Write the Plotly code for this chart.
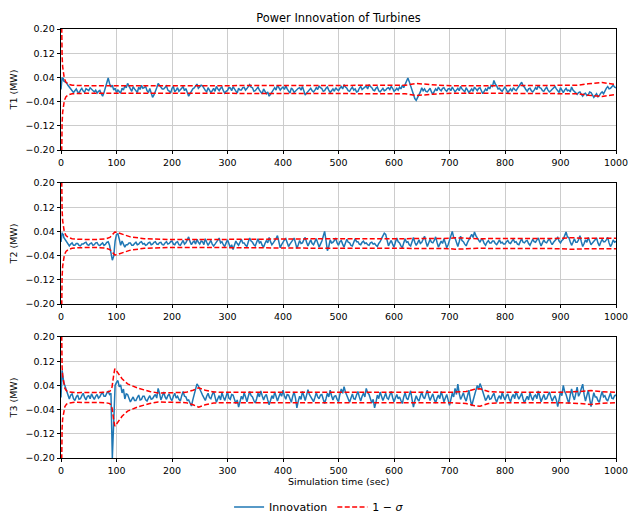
import plotly.graph_objects as go
from plotly.subplots import make_subplots

# ---------------- data (values in kW, i.e. 1e-3 MW) ----------------
# first five samples at 1 s, afterwards every 2.5 s
t1_innov_kw = (
    [0, 35, 40, 30, 38]
    + [28, 24, 22, 14, 8, 2, -6, -10, -4, 2, -8, -12, -2, 4, -5, -9, 3, -1, -4, 6, 2, -4, -8, -2, -12, -6, -3, -14, -22, -10, 5, 18, 38, 20, 8, 14, -2, 4, -10, -2]
    + [-6, -12, 4, -2, 12, 6, 20, 8, 2, -6, 9, 2, -3, -10, 8, 0, 14, 4, 6, 10, -4, -10, 3, -12, -26, -18, -8, 6, 20, 14, 10, 2, 2, 6, 12, -2, -5, -12, 4, 10]
    + [-8, -2, 6, -6, -2, 4, 10, -4, 3, -10, -22, -14, -6, 2, 5, 12, 18, 4, 8, 14, 12, 2, -3, -8, 6, -2, -10, -4, 4, -6, 10, 2, -4, 4, 8, -4, -12, -6, -3, 6]
    + [5, -4, 9, 2, -6, -12, 4, -2, -2, 6, 7, -2, 3, 10, 16, 8, 6, -6, -4, 2, 8, -2, -8, -14, 2, -6, -14, -8, -22, -16, -10, -2, 6, -2, 14, 6, -2, 4, 8, 0]
    + [12, 2, -4, -12, 5, 0, -10, -4, -2, 4, 6, -2, 10, -6, -18, -12, -6, 2, 4, -4, -8, -2, 6, 0, 12, 6, 3, -6, -4, 4, 8, -2, -10, -4, 2, -6, 6, 0, -4, 4]
    + [10, 2, 16, 8, 4, -4, -6, 2, 8, -2, 2, -8, -6, 4, 10, 0, 4, 8, 12, 2, 16, 10, 6, -2, -4, 4, 8, -4, -8, -2, 4, -4, -2, 4, 6, 0, 10, 4, -6, -2]
    + [4, -2, 8, 2, 14, 6, 18, 24, 38, 26, 10, -4, -18, -30, -36, -28, -20, -8, 6, -4, 2, -6, -8, 0, 4, -8, -16, -6, 2, -4, 8, 0, -4, 4, 6, -2, -6, 2, 3, -4]
    + [8, 0, -8, -2, 4, -4, 10, 2, -2, -8, 6, 0, -10, -4, 2, -6, 8, 2, -4, 4, 6, -4, -14, -6, 2, -4, 8, 2, 14, 10, 30, 18, 12, 2, 4, -2, -6, 2, 8, 0]
    + [-10, -4, 2, -6, 6, 0, -4, 4, 10, 16, 24, 12, 8, 0, -6, 2, 4, -4, -8, -2, 6, 0, 14, 6, 4, -4, -6, 2, 8, -2, -8, -4, 2, 6, 10, 2, -4, -10, 6, -2]
    + [-10, -2, 4, -4, -2, -8, 8, -2, -6, -12, -16, -10, -8, -16, -22, -14, -12, -20, -18, -8, -10, -18, -26, -20, -14, -24, -20, -12, -8, -14, -2, 4, 10, 2, 4, 10, 14, 8, 6, 4]
)

t2_innov_kw = (
    [5, 30, 36, 28, 32]
    + [20, 12, 4, -4, -8, -2, 2, -6, -6, 0, 0, -6, -8, -2, -2, 2, 4, -4, -6, 0, 2, -6, -4, 2, 3, -5, -7, -2, 2, -6, -3, 4, 6, -6, -30, -55, -42, 8, 30, 32]
    + [14, -6, 8, -2, -12, -4, -4, 2, 2, -6, -6, 0, 4, -4, -2, 4, 6, -2, 0, -6, -4, 2, 4, -4, -2, 4, 6, -2, -3, 3, 4, -4, -5, 2, 6, -2, 0, 6, 8, -2]
    + [-4, 4, 6, -4, -6, 2, 10, -2, 2, 12, 22, 6, -4, 4, 8, -2, 14, 4, -2, 8, 6, -4, 16, 4, -6, 2, 10, -2, -8, -2, 4, 10, 18, 2, 6, -4, -10, 2, 12, 0]
    + [-14, -4, -20, -6, 8, 0, -6, 4, 14, 2, 2, -6, -10, 6, 18, 8, 4, -4, -8, 4, 16, 2, 6, -6, -12, 0, 10, 2, 20, 6, -4, 2, 8, 16, 26, 6, -14, -4, 6, 12]
    + [16, 2, -10, -2, 4, 10, 18, 2, -16, -4, 10, 0, 2, 12, 20, 4, -8, 2, 12, 0, -4, 6, 16, 2, -12, -2, 8, 24, 40, 10, -24, -10, 12, 2, 4, 10, 18, 2, -6, 6]
    + [10, -2, -12, 2, 14, 4, 2, -6, -8, 4, 16, 6, 6, -2, -4, 4, 8, 0, 2, -4, -6, 2, 4, -2, 0, -6, -10, 0, 6, 16, 24, 34, 30, 8, -8, 2, 10, -2, -12, 4]
    + [18, 6, 2, -8, -14, 2, 16, 4, 6, -4, -8, 6, 20, 4, -6, 2, 12, 0, 4, 14, 24, 6, -10, 2, 14, 4, 2, 10, 22, 4, -12, -2, 8, 0, 16, 2, -14, -4, 10, 20]
    + [40, 20, 18, 4, -10, 6, 24, 10, 6, -2, -8, 4, 14, 22, 30, 20, 38, 26, 20, 10, 4, 14, 12, 0, -6, 4, 10, 2, 2, 8, 8, 0, -4, 4, 12, 2, 4, -2, -2, 6]
    + [10, 2, 0, 8, 14, 4, 6, -2, -4, 6, 16, 4, 2, 8, 10, 0, -6, 4, 14, 6, 4, 12, 18, 4, -8, 2, 12, 4, 2, 10, 16, 4, -4, 4, 10, 14, 20, 8, 2, 10]
    + [14, 26, 38, 22, 20, 6, -6, 4, 16, 4, 4, 12, 26, 6, -10, 0, 12, 4, 20, 8, -4, 2, 8, 14, 18, 2, -8, 4, 14, 6, 6, 12, 20, 2, -10, -2, 12, 4, 6, 10]
)

t3_innov_kw = (
    [0, 60, 90, 75, 60]
    + [50, 36, 20, 6, -5, 8, 12, -4, -10, 2, 8, -6, -4, 6, 14, 0, -8, 4, 6, -4, 12, 2, -6, 4, 10, -2, 2, 12, 16, 4, 4, 14, 20, 10, 14, -200, -40, 40, 50, 56]
    + [35, 42, 15, 28, -5, 12, 10, -4, -15, -6, 2, -10, -10, 0, 8, -8, -6, 4, 4, -8, -12, -2, 6, -6, -4, 4, 10, -2, 30, 14, -8, 4, 18, 2, -6, 6, 12, -4, -10, 4]
    + [14, -2, 4, -6, -12, 6, 20, 4, 2, -10, -8, -18, -28, -8, 10, 30, 45, 38, 30, 18, 8, -4, -10, 4, 14, 0, -4, 10, 20, 2, -16, -4, 6, -8, 16, 2, -10, 4, 18, -2]
    + [-6, 10, 8, -6, -20, -8, -32, -14, 4, -6, 16, 2, -14, 4, 20, 6, 2, -10, -18, -4, 14, 2, 22, 6, -8, 4, 10, -8, -24, -10, 6, -4, 18, 4, -12, 2, 14, 4, 24, 6]
    + [-6, 10, 8, -4, -16, 4, 18, -2, -34, -12, 4, -6, 20, 6, -10, 8, 26, 10, 2, -8, -14, 0, 16, 2, -4, 8, 10, -6, -20, -4, 14, 2, 24, 6, -8, 4, 6, -6, -14, 10]
    + [28, 14, 36, 18, 4, -8, -16, -2, 12, -4, -6, 8, 20, 2, -12, 4, 14, 2, 30, 16, 10, -4, -18, -6, -34, -16, 8, -4, 18, 4, -10, 2, 14, -2, -6, 8, 20, 0, -14, -2]
    + [10, -4, 2, -10, -20, 2, 16, -2, -8, 8, 22, -6, -32, -10, 6, -6, -12, 4, 18, 2, -4, 10, 24, 4, -10, 2, 12, -6, -18, -2, 8, -4, 20, 4, -14, -2, 10, -8, -26, -6]
    + [14, 2, 30, 10, 44, 14, -6, 4, 16, -2, -12, 6, 24, -6, -28, -10, 6, 24, 40, 28, 46, 34, 20, 4, -10, -2, 8, -6, -4, 6, 14, -4, -16, -2, 6, -6, 18, 2, -8, 6]
    + [12, -4, -14, 2, 10, -4, 20, 6, -6, 4, 14, -4, -18, -6, 4, -8, 16, 2, -10, 4, 8, -4, 22, 4, -14, -2, 10, -6, -4, 8, 18, 2, -12, -2, 6, -8, -30, -6, 20, 6]
    + [40, 20, 10, -6, -20, 8, 28, 6, -8, 12, 34, 4, 14, 30, 44, 10, -12, 6, 24, -4, -30, -8, 16, 2, 2, -10, -16, 4, 20, 2, 6, -6, -12, 2, 14, -2, -4, 6, 8, 2]
)

# sample times (s) for the innovation series
time_s = [0, 1, 2, 3, 4] + [5 + 2.5 * k for k in range(len(t1_innov_kw) - 5)]

# 1-sigma envelopes (kW) at their own time knots
t1_sig_time = [0, 1, 2, 3, 4, 6, 9, 14, 20, 30, 50, 100, 200, 300, 400, 500, 600, 620, 640,
               660, 690, 720, 800, 900, 930, 950, 975, 990, 1000]
t1_sig_kw = [400, 200, 110, 75, 55, 36, 24, 17, 14, 13, 12, 12, 12, 12, 12, 12, 12, 14, 20,
             17, 13, 12, 12, 12, 14, 19, 23, 19, 16]

t2_sig_time = [0, 1, 2, 3, 4, 6, 9, 14, 20, 30, 60, 80, 88, 93, 97, 100, 110, 125, 150, 200,
               250, 300, 400, 500, 550, 590, 620, 700, 710, 750, 800, 900, 920, 950, 1000]
t2_sig_kw = [400, 200, 110, 75, 55, 38, 26, 19, 16, 14, 13, 15, 20, 30, 38, 37, 30, 22, 16, 13,
             13, 14, 15, 16, 16, 17, 16, 17, 19, 16, 16, 17, 19, 17, 17]

t3_sig_time = [0, 1, 2, 3, 5, 7, 10, 15, 25, 50, 80, 88, 92, 95, 97, 100, 110, 120, 140, 160,
               175, 200, 225, 238, 248, 260, 275, 300, 400, 500, 600, 700, 730, 745, 755, 770,
               800, 900, 935, 955, 975, 1000]
t3_sig_kw = [400, 180, 100, 70, 45, 30, 22, 18, 16, 16, 17, 20, 35, 75, 95, 88, 62, 45, 30, 20,
             15, 16, 17, 24, 32, 24, 18, 17, 17, 17, 17, 17, 20, 27, 29, 20, 17, 17, 20, 23, 19, 17]

turbine_labels = ["T1 (MW)", "T2 (MW)", "T3 (MW)"]
y_ticks = [-0.20, -0.12, -0.04, 0.04, 0.12, 0.20]
x_ticks = list(range(0, 1001, 100))

# ---------------- figure ----------------
FONT = "DejaVu Sans"
BLUE = "#1f77b4"
RED = "#ff0000"

fig = make_subplots(rows=3, cols=1, vertical_spacing=0.0769)

innov = [t1_innov_kw, t2_innov_kw, t3_innov_kw]
sig_t = [t1_sig_time, t2_sig_time, t3_sig_time]
sig = [t1_sig_kw, t2_sig_kw, t3_sig_kw]

for i in range(3):
    row = i + 1
    fig.add_trace(go.Scatter(
        x=time_s, y=[v / 1000 for v in innov[i]], mode="lines",
        line=dict(color=BLUE, width=1.5), name="Innovation",
        showlegend=(i == 0), legendrank=1), row=row, col=1)
    fig.add_trace(go.Scatter(
        x=sig_t[i], y=[s / 1000 for s in sig[i]], mode="lines",
        line=dict(color=RED, width=1.5, dash="5px,2.4px"), name="1 \u2212 <i>\u03c3</i>",
        showlegend=(i == 0), legendrank=2), row=row, col=1)
    fig.add_trace(go.Scatter(
        x=sig_t[i], y=[-s / 1000 for s in sig[i]], mode="lines",
        line=dict(color=RED, width=1.5, dash="5px,2.4px"), name="1 \u2212 <i>\u03c3</i>",
        showlegend=False), row=row, col=1)

    fig.update_xaxes(
        range=[0, 1000], tickvals=x_ticks, ticks="outside", ticklen=3.5, tickwidth=0.8,
        tickcolor="black", showline=True, linecolor="black", linewidth=0.8, mirror=True,
        showgrid=True, gridcolor="#cccccc", gridwidth=0.8, zeroline=False, automargin=False,
        ticklabeloverflow="allow",
        tickfont=dict(family=FONT, size=9.5, color="black"), row=row, col=1)
    fig.update_yaxes(
        range=[-0.2, 0.2], tickvals=y_ticks, tickformat=".2f", ticks="outside", ticklen=3.5,
        tickwidth=0.8, tickcolor="black", showline=True, linecolor="black", linewidth=0.8,
        mirror=True, showgrid=True, gridcolor="#cccccc", gridwidth=0.8, zeroline=False,
        automargin=False, ticklabeloverflow="allow",
        tickfont=dict(family=FONT, size=9.5, color="black"),
        title=dict(text=turbine_labels[i], standoff=6,
                   font=dict(family=FONT, size=9.5, color="black")),
        row=row, col=1)

fig.add_annotation(text="Simulation time (sec)", xref="paper", yref="paper",
                   x=0.5, y=(458 - 481) / 429, xanchor="center", yanchor="middle",
                   showarrow=False, font=dict(family=FONT, size=9.5, color="black"))

fig.update_layout(
    width=628, height=515,
    margin=dict(l=61, r=12, t=29, b=57, autoexpand=False),
    paper_bgcolor="white", plot_bgcolor="white",
    font=dict(family=FONT, size=9.5, color="black"),
    title=dict(text="Power Innovation of Turbines", x=0.5, xref="paper", xanchor="center",
               y=1 - 18 / 515, yanchor="middle",
               font=dict(family=FONT, size=11.4, color="black")),
    legend=dict(orientation="h", x=0.465, xanchor="center", y=(458 - 507) / 429,
                yanchor="middle", xref="paper", yref="paper", bgcolor="rgba(0,0,0,0)",
                font=dict(family=FONT, size=11, color="black"),
                itemwidth=30, tracegroupgap=0),
    showlegend=True,
)

fig.write_html("out.html", config={"displayModeBar": False},
               post_script="document.body.style.margin='0px';")
